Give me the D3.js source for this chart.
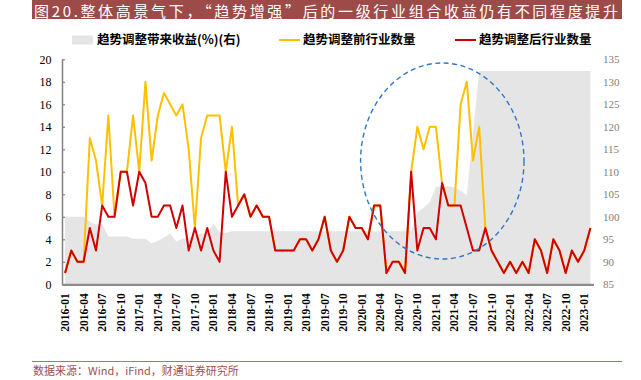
<!DOCTYPE html>
<html><head><meta charset="utf-8">
<script src="https://cdn.jsdelivr.net/npm/d3@7/dist/d3.min.js"></script>
<style>body{margin:0;background:#fff;} svg{display:block;}</style>
</head><body>
<svg id="c" width="641" height="380"></svg>
<script>
const months = [
"2016-01","2016-02","2016-03","2016-04","2016-05","2016-06","2016-07","2016-08","2016-09","2016-10","2016-11","2016-12",
"2017-01","2017-02","2017-03","2017-04","2017-05","2017-06","2017-07","2017-08","2017-09","2017-10","2017-11","2017-12",
"2018-01","2018-02","2018-03","2018-04","2018-05","2018-06","2018-07","2018-08","2018-09","2018-10","2018-11","2018-12",
"2019-01","2019-02","2019-03","2019-04","2019-05","2019-06","2019-07","2019-08","2019-09","2019-10","2019-11","2019-12",
"2020-01","2020-02","2020-03","2020-04","2020-05","2020-06","2020-07","2020-08","2020-09","2020-10","2020-11","2020-12",
"2021-01","2021-02","2021-03","2021-04","2021-05","2021-06","2021-07","2021-08","2021-09","2021-10","2021-11","2021-12",
"2022-01","2022-02","2022-03","2022-04","2022-05","2022-06","2022-07","2022-08","2022-09","2022-10","2022-11","2022-12",
"2023-01","2023-02"];
const tickLabels = ["2016-01","2016-04","2016-07","2016-10","2017-01","2017-04","2017-07","2017-10","2018-01","2018-04","2018-07","2018-10",
"2019-01","2019-04","2019-07","2019-10","2020-01","2020-04","2020-07","2020-10","2021-01","2021-04","2021-07","2021-10",
"2022-01","2022-04","2022-07","2022-10","2023-01"];
// 趋势调整带来收益(%)(右)
const gainRight = [100,100,100,100,98.9,98.3,98.4,95.6,95.6,95.6,95.6,95.1,95.1,95.1,94.1,94.6,95.4,96.3,94.5,95.2,
95.3,95.9,96.3,96.2,98.6,96.5,96.4,96.8,96.8,96.8,96.8,96.8,96.8,96.8,96.8,96.8,96.8,96.8,96.8,96.8,
96.8,96.8,96.8,96.8,96.8,96.8,96.8,96.8,96.8,96.8,96.8,96.8,96.8,96.8,96.8,96.8,96.8,101,102,103.3,
106.6,106.8,106.8,106.5,105.8,104.8,118.5,132.4,132.4,132.4,132.4,132.4,132.4,132.4,132.4,132.4,132.4,132.4,132.4,132.4,
132.4,132.4,132.4,132.4,132.4,132.4];
// 趋势调整前行业数量
const countBefore = [1,3,2,2,13,11,7,15,6,10,10,15,10,18,11,15,17,16,15,16,
12,5,13,15,15,15,10,14,7,8,6,7,6,6,3,3,3,3,4,4,
3,4,6,3,2,3,6,5,5,4,7,7,1,2,2,1,10,14,12,14,
14,9,7,7,16,18,11,14,5,3,2,1,2,1,2,1,4,3,1,4,
3,1,3,2,3,5];
// 趋势调整后行业数量
const countAfter = [1,3,2,2,5,3,7,6,6,10,10,7,10,9,6,6,7,7,5,7,
3,5,3,5,3,2,10,6,7,8,6,7,6,6,3,3,3,3,4,4,
3,4,6,3,2,3,6,5,5,4,7,7,1,2,2,1,10,3,5,5,
4,9,7,7,7,5,3,3,5,3,2,1,2,1,2,1,4,3,1,4,
3,1,3,2,3,5];
const leftTicks = [0,2,4,6,8,10,12,14,16,18,20];
const rightTicks = [85,90,95,100,105,110,115,120,125,130,135];
const legendNames = ["趋势调整带来收益(%)(右)","趋势调整前行业数量","趋势调整后行业数量"];
const titleText = "图20.整体高景气下，“趋势增强”后的一级行业组合收益仍有不同程度提升";
const sourceText = "数据来源：Wind，iFind，财通证券研究所";

const svg = d3.select("#c");
const L = 62, R = 593.5, T = 59.3, B = 284.3;
const x = d3.scaleBand().domain(months).range([L, R]).padding(0);
const cx = m => x(m) + x.bandwidth()/2;
const yL = d3.scaleLinear().domain([0,20]).range([B, T]);
const yR = d3.scaleLinear().domain([85,135]).range([B, T]);
const serif = "'Liberation Serif','Times New Roman',serif";
const cjk = "'Noto Sans CJK SC',sans-serif";

// title bar
svg.append("rect").attr("x",32).attr("y",0).attr("width",590).attr("height",19).attr("fill","#9d4b49");
svg.append("text").attr("x",34).attr("y",17.4).attr("fill","#fff")
  .attr("textLength",584).attr("lengthAdjust","spacing")
  .style("font-family",cjk).style("font-size","15px").text(titleText);

// gray area
svg.append("path").datum(gainRight)
  .attr("d", d3.area().x((d,i)=>cx(months[i])).y0(yR(85)).y1(d=>yR(d)))
  .attr("fill","#e5e5e5");

// lines
const line = yS => d3.line().x((d,i)=>cx(months[i])).y(d=>yS(d));
svg.append("path").datum(countBefore).attr("d", line(yL))
  .attr("fill","none").attr("stroke","#ffc000").attr("stroke-width",2).attr("stroke-linejoin","round");
svg.append("path").datum(countAfter).attr("d", line(yL))
  .attr("fill","none").attr("stroke","#d00000").attr("stroke-width",2).attr("stroke-linejoin","round");

// left axis
const gl = svg.append("g").attr("transform",`translate(${L},0)`)
  .call(d3.axisLeft(yL).tickValues(leftTicks).tickSizeInner(-3).tickSizeOuter(0).tickPadding(10.5));
gl.select(".domain").attr("stroke","#808080").attr("stroke-width",1.5);
gl.selectAll(".tick line").attr("stroke","#808080").attr("stroke-width",1.2);
gl.selectAll(".tick text").style("font-family",serif).style("font-size","12px").attr("fill","#000");

// right axis
const gr = svg.append("g").attr("transform",`translate(${R},0)`)
  .call(d3.axisRight(yR).tickValues(rightTicks).tickSize(0).tickPadding(9.5));
gr.select(".domain").remove();
gr.selectAll(".tick text").style("font-family",serif).style("font-size","11px").attr("fill","#808080");

// bottom axis
const gb = svg.append("g").attr("transform",`translate(0,${B})`)
  .call(d3.axisBottom(x).tickValues(tickLabels).tickSize(0).tickPadding(0));
gb.select(".domain").attr("stroke","#8c8c8c").attr("stroke-width",2.2);
gb.selectAll(".tick text")
  .attr("transform","rotate(-90)")
  .attr("x",-9).attr("y",0).attr("dy","0.35em")
  .style("text-anchor","end")
  .style("font-family",serif).style("font-weight","bold").style("font-size","11.5px").attr("fill","#000");

// dashed ellipse
svg.append("ellipse").attr("cx",442.3).attr("cy",161).attr("rx",81.7).attr("ry",98)
  .attr("fill","none").attr("stroke","#2e78c8").attr("stroke-width",1.4).attr("stroke-dasharray","5,3.5");

// legend
const lg = svg.append("g").style("font-family",cjk).style("font-size","12.5px").style("font-weight","bold");
lg.append("rect").attr("x",72).attr("y",35.5).attr("width",21).attr("height",9).attr("fill","#e5e5e5");
lg.append("text").attr("x",97).attr("y",40).attr("dy","0.35em").text(legendNames[0]);
lg.append("line").attr("x1",279).attr("x2",300).attr("y1",40).attr("y2",40).attr("stroke","#ffc000").attr("stroke-width",2);
lg.append("text").attr("x",303).attr("y",40).attr("dy","0.35em").text(legendNames[1]);
lg.append("line").attr("x1",455).attr("x2",476).attr("y1",40).attr("y2",40).attr("stroke","#d00000").attr("stroke-width",2);
lg.append("text").attr("x",479).attr("y",40).attr("dy","0.35em").text(legendNames[2]);

// source
svg.append("line").attr("x1",32).attr("x2",622).attr("y1",361.5).attr("y2",361.5).attr("stroke","#b8706b").attr("stroke-width",1);
svg.append("text").attr("x",33).attr("y",380).attr("dy","-0.5em").attr("fill","#a0504e")
  .style("font-family",cjk).style("font-size","11px").text(sourceText);
</script>
</body></html>
